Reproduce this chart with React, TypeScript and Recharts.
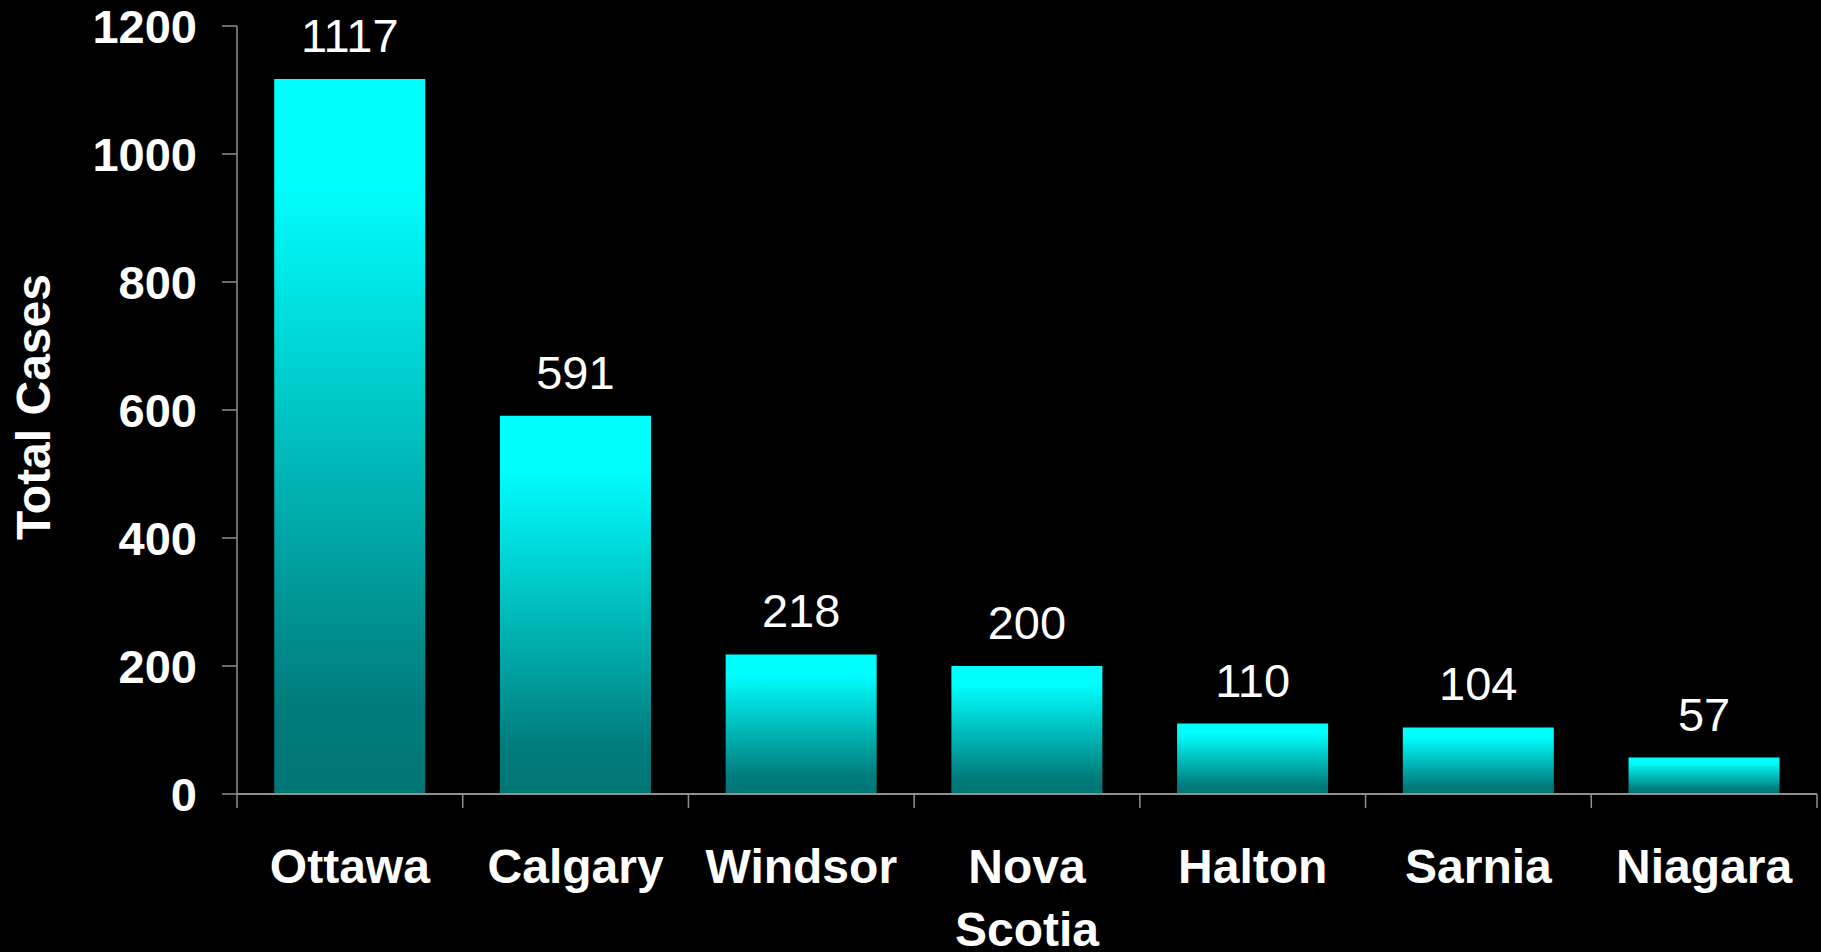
import React from "react";
import { BarChart, Bar, XAxis, YAxis, LabelList } from "recharts";

const categories = ["Ottawa", "Calgary", "Windsor", "Nova Scotia", "Halton", "Sarnia", "Niagara"];
const totalCases = [1117, 591, 218, 200, 110, 104, 57];
const yTicks = [0, 200, 400, 600, 800, 1000, 1200];

const data = categories.map((name, i) => ({ name, cases: totalCases[i] }));

const W = 1821;
const H = 952;
const Y_AXIS_W = 237;
const RIGHT = 4;
const TOP = 26;
const X_AXIS_H = 158;
const BAND = (W - Y_AXIS_W - RIGHT) / categories.length;
const FONT = '"Liberation Sans", Arial, Helvetica, sans-serif';
const AXIS_COLOR = "#8f8f8f";

const XTick = (props: any) => {
  const { x, y, payload, index } = props;
  const words = String(payload.value).split(" ");
  const left = x - BAND / 2;
  const right = x + BAND / 2;
  return (
    <g>
      <line x1={left} y1={y} x2={left} y2={y + 14} stroke={AXIS_COLOR} strokeWidth={1.5} />
      {index === categories.length - 1 && (
        <line x1={right} y1={y} x2={right} y2={y + 14} stroke={AXIS_COLOR} strokeWidth={1.5} />
      )}
      {words.map((w, i) => (
        <text
          key={i}
          x={x}
          y={y + 89 + i * 63}
          textAnchor="middle"
          fill="#ffffff"
          fontFamily={FONT}
          fontWeight="bold"
          fontSize={48}
        >
          {w}
        </text>
      ))}
    </g>
  );
};

const ValueLabel = (props: any) => {
  const { x, y, width, value } = props;
  return (
    <text
      x={x + width / 2}
      y={y - 27}
      textAnchor="middle"
      fill="#ffffff"
      fontFamily={FONT}
      fontSize={47}
    >
      {value}
    </text>
  );
};

export default function App() {
  return (
    <div style={{ position: "absolute", left: 0, top: 0, width: W, height: H, background: "#000000" }}>
      <BarChart
        width={W}
        height={H}
        data={data}
        margin={{ top: TOP, right: RIGHT, bottom: 0, left: 0 }}
        barCategoryGap="16.5%"
      >
        <defs>
          <linearGradient id="barGrad" x1="0" y1="0" x2="0" y2="1">
            <stop offset="0%" stopColor="#00ffff" />
            <stop offset="14%" stopColor="#00ffff" />
            <stop offset="88%" stopColor="#007b7b" />
            <stop offset="100%" stopColor="#007676" />
          </linearGradient>
        </defs>
        <XAxis
          dataKey="name"
          height={X_AXIS_H}
          interval={0}
          tickLine={false}
          tickSize={0}
          tickMargin={0}
          axisLine={{ stroke: AXIS_COLOR, strokeWidth: 2 }}
          tick={<XTick />}
        />
        <YAxis
          width={Y_AXIS_W}
          domain={[0, 1200]}
          ticks={yTicks}
          interval={0}
          tickSize={15}
          tickMargin={25}
          axisLine={{ stroke: AXIS_COLOR, strokeWidth: 1.5 }}
          tickLine={{ stroke: AXIS_COLOR, strokeWidth: 1.5 }}
          tick={{ fill: "#ffffff", fontFamily: FONT, fontWeight: "bold", fontSize: 47 }}
          label={{
            value: "Total Cases",
            angle: -90,
            position: "insideLeft",
            offset: 0,
            content: () => (
              <text
                x={33}
                y={407}
                transform="rotate(-90 33 407)"
                textAnchor="middle"
                dominantBaseline="central"
                fill="#ffffff"
                fontFamily={FONT}
                fontWeight="bold"
                fontSize={48}
              >
                Total Cases
              </text>
            ),
          }}
        />
        <Bar dataKey="cases" fill="url(#barGrad)" isAnimationActive={false}>
          <LabelList dataKey="cases" content={<ValueLabel />} />
        </Bar>
      </BarChart>
    </div>
  );
}
